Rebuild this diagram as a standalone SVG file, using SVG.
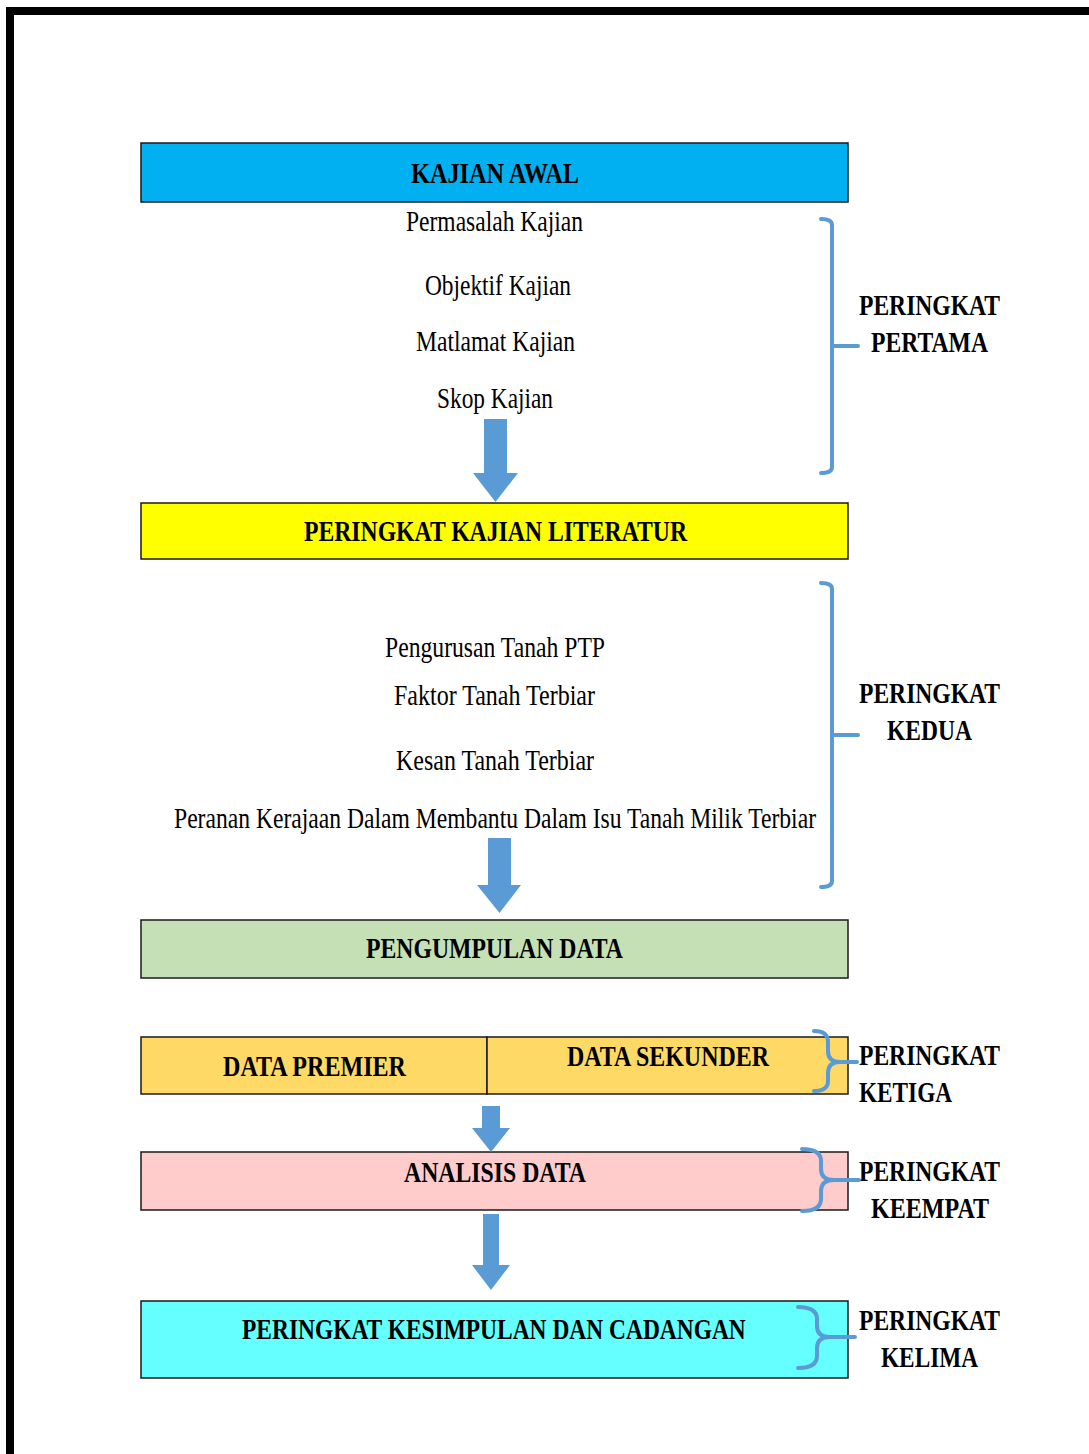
<svg xmlns="http://www.w3.org/2000/svg" width="1089" height="1454" viewBox="0 0 1089 1454">
<style>
.t{font-family:"Liberation Serif","Times New Roman",serif;font-size:30px;fill:#000}
.b{font-weight:bold}
.box{stroke:#1a1a1a;stroke-width:1.5}
.br{fill:none;stroke:#5B9BD5;stroke-width:4;stroke-linecap:round;stroke-linejoin:round}
.arr{fill:#5B9BD5}
</style>
<rect width="1089" height="1454" fill="#fff"/>
<path d="M6,7 H1089 V15 H14 V1454 H6 Z" fill="#000"/>

<g id="kajian-awal">
<rect class="box" x="141" y="143" width="707" height="59" fill="#00B0F0"/>
<text class="t b" x="411" y="183" textLength="168" lengthAdjust="spacingAndGlyphs">KAJIAN AWAL</text>
</g>
<g id="peringkat-pertama-items">
<text class="t" x="406" y="231" textLength="177" lengthAdjust="spacingAndGlyphs">Permasalah Kajian</text>
<text class="t" x="425" y="295" textLength="146" lengthAdjust="spacingAndGlyphs">Objektif Kajian</text>
<text class="t" x="416" y="351" textLength="159" lengthAdjust="spacingAndGlyphs">Matlamat Kajian</text>
<text class="t" x="437" y="408" textLength="116" lengthAdjust="spacingAndGlyphs">Skop Kajian</text>
</g>
<g id="kajian-literatur">
<rect class="box" x="141" y="503" width="707" height="56" fill="#FFFF00"/>
<text class="t b" x="304" y="541" textLength="383" lengthAdjust="spacingAndGlyphs">PERINGKAT KAJIAN LITERATUR</text>
</g>
<g id="peringkat-kedua-items">
<text class="t" x="385" y="657" textLength="220" lengthAdjust="spacingAndGlyphs">Pengurusan Tanah PTP</text>
<text class="t" x="394" y="705" textLength="201" lengthAdjust="spacingAndGlyphs">Faktor Tanah Terbiar</text>
<text class="t" x="396" y="770" textLength="198" lengthAdjust="spacingAndGlyphs">Kesan Tanah Terbiar</text>
<text class="t" x="174" y="828" textLength="642" lengthAdjust="spacingAndGlyphs">Peranan Kerajaan Dalam Membantu Dalam Isu Tanah Milik Terbiar</text>
</g>
<g id="pengumpulan-data">
<rect class="box" x="141" y="920" width="707" height="58" fill="#C5E0B4"/>
<text class="t b" x="366" y="958" textLength="257" lengthAdjust="spacingAndGlyphs">PENGUMPULAN DATA</text>
</g>
<g id="data-premier">
<rect class="box" x="141" y="1037" width="346" height="57" fill="#FFD966"/>
<text class="t b" x="223" y="1076" textLength="183" lengthAdjust="spacingAndGlyphs">DATA PREMIER</text>
</g>
<g id="data-sekunder">
<rect class="box" x="487" y="1037" width="361" height="57" fill="#FFD966"/>
<text class="t b" x="567" y="1066" textLength="202" lengthAdjust="spacingAndGlyphs">DATA SEKUNDER</text>
</g>
<g id="analisis-data">
<rect class="box" x="141" y="1152" width="707" height="58" fill="#FFCCCC"/>
<text class="t b" x="404" y="1182" textLength="182" lengthAdjust="spacingAndGlyphs">ANALISIS DATA</text>
</g>
<g id="kesimpulan">
<rect class="box" x="141" y="1301" width="707" height="77" fill="#66FFFF"/>
<text class="t b" transform="translate(242,1339) scale(0.782,1)" x="0" y="0">PERINGKAT KESIMPULAN DAN CADANGAN</text>
</g>

<g id="label-pertama">
<text class="t b" x="859" y="315" textLength="141" lengthAdjust="spacingAndGlyphs">PERINGKAT</text>
<text class="t b" x="871" y="352" textLength="117" lengthAdjust="spacingAndGlyphs">PERTAMA</text>
</g>
<g id="label-kedua">
<text class="t b" x="859" y="703" textLength="141" lengthAdjust="spacingAndGlyphs">PERINGKAT</text>
<text class="t b" x="887" y="740" textLength="85" lengthAdjust="spacingAndGlyphs">KEDUA</text>
</g>
<g id="label-ketiga">
<text class="t b" x="859" y="1065" textLength="141" lengthAdjust="spacingAndGlyphs">PERINGKAT</text>
<text class="t b" x="859" y="1102" textLength="93" lengthAdjust="spacingAndGlyphs">KETIGA</text>
</g>
<g id="label-keempat">
<text class="t b" x="859" y="1181" textLength="141" lengthAdjust="spacingAndGlyphs">PERINGKAT</text>
<text class="t b" x="871" y="1218" textLength="118" lengthAdjust="spacingAndGlyphs">KEEMPAT</text>
</g>
<g id="label-kelima">
<text class="t b" x="859" y="1330" textLength="141" lengthAdjust="spacingAndGlyphs">PERINGKAT</text>
<text class="t b" x="881" y="1367" textLength="97" lengthAdjust="spacingAndGlyphs">KELIMA</text>
</g>

<g id="connectors">
<path class="arr" d="M484,419 H507 V473 H518 L495.5,502 L473,473 H484 Z"/>
<path class="arr" d="M488,838 H511 V885 H521 L499.5,913 L477,885 H488 Z"/>
<path class="arr" d="M482,1106 H500 V1128 H510 L491,1152 L472,1128 H482 Z"/>
<path class="arr" d="M483,1214 H499 V1265 H510 L491,1290 L472,1265 H483 Z"/>

<path class="br" d="M821,219 Q832,219 832,225 V467 Q832,473 821,473 M832,346 H858"/>
<path class="br" d="M821,583 Q832,583 832,589 V881 Q832,887 821,887 M832,735 H858"/>
<path class="br" d="M814,1031 Q828,1031 828,1042 V1051 Q828,1062 840,1062 H857 M840,1062 Q828,1062 828,1073 V1081 Q828,1091 814,1091"/>
<path class="br" d="M802,1149 Q821,1149 821,1161 V1169 Q821,1180 834,1180 H859 M834,1180 Q821,1180 821,1191 V1199 Q821,1211 802,1211"/>
<path class="br" d="M798,1307 Q817,1307 817,1319 V1326 Q817,1337 830,1337 H855 M830,1337 Q817,1337 817,1348 V1356 Q817,1368 798,1368"/>
</g>
</svg>
